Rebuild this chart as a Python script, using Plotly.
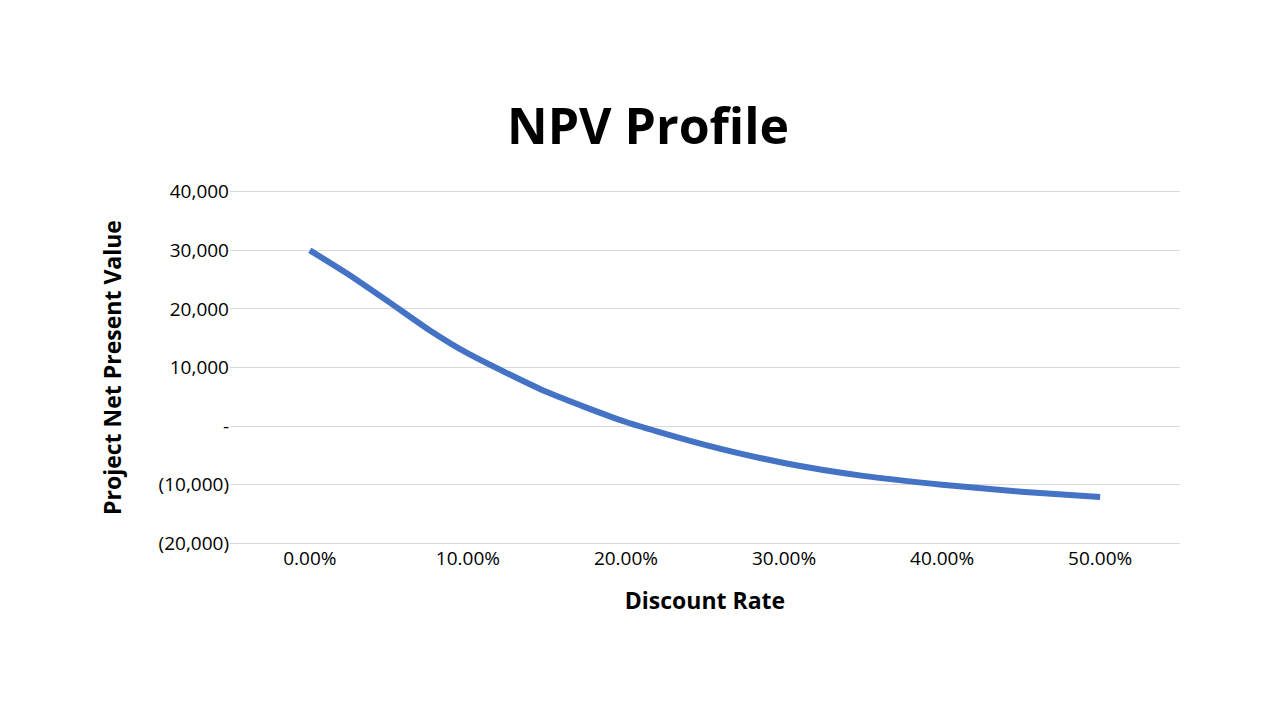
import plotly.graph_objects as go

# discount rate vs NPV
rates = [0.0, 0.025, 0.05, 0.075, 0.10, 0.15, 0.20, 0.25, 0.30, 0.35, 0.40, 0.45, 0.50]
npv = [30000, 25800, 21200, 16500, 12400, 5800, 700, -3200, -6300, -8500, -10000, -11200, -12100]

y_ticks = [40000, 30000, 20000, 10000, 0, -10000, -20000]
y_labels = ["40,000", "30,000", "20,000", "10,000", "-", "(10,000)", "(20,000)"]
x_ticks = [0.0, 0.1, 0.2, 0.3, 0.4, 0.5]
x_labels = ["0.00%", "10.00%", "20.00%", "30.00%", "40.00%", "50.00%"]

fig = go.Figure(go.Scatter(
    x=rates, y=npv, mode="lines",
    line=dict(color="#4472C4", width=6, shape="spline", smoothing=0.6),
))

fig.update_layout(
    width=1280, height=720,
    paper_bgcolor="white", plot_bgcolor="white",
    margin=dict(l=222, r=108, t=182, b=183, autoexpand=False),
    font=dict(family="Open Sans, Liberation Sans", size=19, color="black"),
    title=dict(text="<b>NPV Profile</b>", x=0.5, xanchor="center",
               y=0.835, yanchor="middle", font=dict(size=50, color="black")),
    showlegend=False,
    xaxis=dict(range=[-0.0505, 0.5505], tickvals=x_ticks, ticktext=x_labels,
               showgrid=False, zeroline=False, showline=False, ticks="",
               automargin=False,
               title=dict(text="<b>Discount Rate</b>", standoff=22,
                          font=dict(size=23))),
    yaxis=dict(range=[-20300, 40300], tickvals=y_ticks, ticktext=y_labels,
               showgrid=True, gridcolor="#D9D9D9", gridwidth=1,
               zeroline=False, showline=False, ticks="", ticklen=0,
               automargin=False,
               title=dict(text="<b>Project Net Present Value</b>", standoff=30,
                          font=dict(size=23))),
)

fig.write_html("out.html")
